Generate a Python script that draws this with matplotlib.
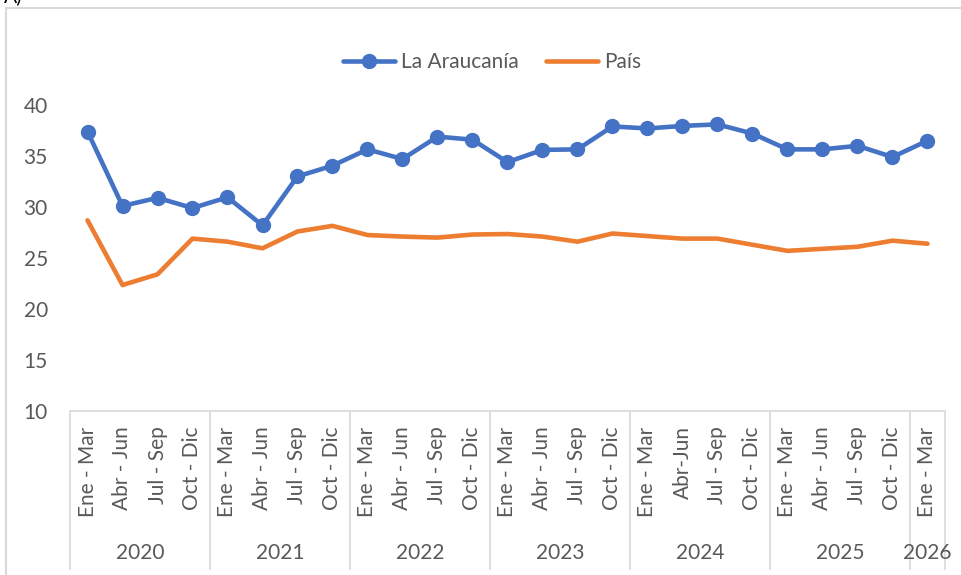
import matplotlib.pyplot as plt
from matplotlib.patches import Rectangle

quarters = ["Ene - Mar", "Abr - Jun", "Jul - Sep", "Oct - Dic",
            "Ene - Mar", "Abr - Jun", "Jul - Sep", "Oct - Dic",
            "Ene - Mar", "Abr - Jun", "Jul - Sep", "Oct - Dic",
            "Ene - Mar", "Abr - Jun", "Jul - Sep", "Oct - Dic",
            "Ene - Mar", "Abr-Jun", "Jul - Sep", "Oct - Dic",
            "Ene - Mar", "Abr - Jun", "Jul - Sep", "Oct - Dic",
            "Ene - Mar"]
years = ["2020", "2021", "2022", "2023", "2024", "2025", "2026"]
quarters_per_year = [4, 4, 4, 4, 4, 4, 1]

araucania = [37.4, 30.1, 30.9, 29.9, 30.95, 28.2, 33.0, 34.05, 35.65, 34.7,
             36.9, 36.6, 34.4, 35.6, 35.65, 37.9, 37.7, 37.95, 38.1, 37.2,
             35.65, 35.65, 36.0, 34.9, 36.5]
pais = [28.7, 22.35, 23.4, 26.9, 26.6, 25.95, 27.6, 28.15, 27.25, 27.1,
        27.0, 27.3, 27.35, 27.1, 26.6, 27.4, 27.15, 26.9, 26.9, 26.3,
        25.7, 25.9, 26.1, 26.7, 26.4]

plt.rcParams['font.family'] = ['Lato', 'DejaVu Sans']
text_col = '#595959'
grid_col = '#d9d9d9'
fs = 15
W, H = 961, 575

fig = plt.figure(figsize=(W / 100, H / 100), dpi=100)
ax = fig.add_axes([70 / W, (H - 411) / H, 875 / W, 306 / H])

x = list(range(len(quarters)))
ax.plot(x, pais, color='#ED7D31', lw=3.3, solid_capstyle='round', label='País', clip_on=False)
ax.plot(x, araucania, color='#4472C4', lw=3.3, marker='o', markersize=10,
        solid_capstyle='round', label='La Araucanía', clip_on=False)

ax.set_xlim(-0.5, len(quarters) - 0.5)
ax.set_ylim(10, 40)
ax.set_yticks([10, 15, 20, 25, 30, 35, 40])
ax.set_xticks(x)
ax.set_xticklabels(quarters, rotation=90, va='top', ha='center')
ax.tick_params(axis='x', length=0, pad=11, labelsize=fs, labelcolor=text_col)
ax.tick_params(axis='y', length=0, pad=16, labelsize=fs, labelcolor=text_col)
for s in ['top', 'right', 'left']:
    ax.spines[s].set_visible(False)
ax.spines['bottom'].set_color(grid_col)
ax.spines['bottom'].set_linewidth(1.2)

# year groups below the quarter labels
trans = ax.get_xaxis_transform()
start = -0.5
ax.vlines(start, -0.52, 0, color=grid_col, lw=1.2, transform=trans, clip_on=False)
for yr, n in zip(years, quarters_per_year):
    end = start + n
    ax.vlines(end, -0.52, 0, color=grid_col, lw=1.2, transform=trans, clip_on=False)
    ax.text((start + end) / 2, -0.464, yr, transform=trans, ha='center', va='center',
            fontsize=fs, color=text_col)
    start = end

fig.legend(loc='center', bbox_to_anchor=(492 / W, 1 - 62 / H), ncol=2, frameon=False,
           fontsize=fs, labelcolor=text_col, handlelength=2.5, handletextpad=0.3,
           columnspacing=1.3, handles=ax.get_lines()[::-1])

fig.patches.append(Rectangle((6 / W, -0.02), 1.0, 1 - 8 / H + 0.02, transform=fig.transFigure,
                             fill=False, edgecolor=grid_col, lw=1.5))
fig.text(0.004, 1 - 2 / H, "A)", fontsize=14, color='black', va='baseline')

fig.savefig('out.png', dpi=100)
